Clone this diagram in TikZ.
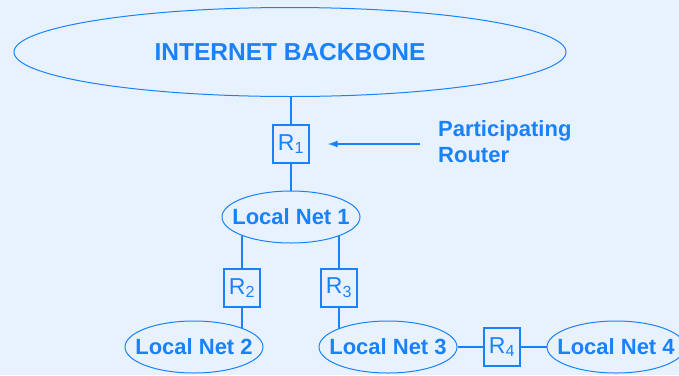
\documentclass[tikz,border=0pt]{standalone}
\usepackage{fontspec}
\setmainfont{Liberation Sans}
\usetikzlibrary{shapes.geometric,arrows.meta}
\definecolor{netblue}{RGB}{25,130,250}
\definecolor{bgblue}{RGB}{232,242,254}
\pgfdeclarelayer{bglayer}
\pgfdeclarelayer{linelayer}
\pgfsetlayers{bglayer,linelayer,main}
\begin{document}
\begin{tikzpicture}[x=1pt,y=-1pt,
  net/.style={ellipse,draw=netblue,line width=1pt,fill=bgblue,text=netblue,
    font=\bfseries\fontsize{22}{26}\selectfont,inner xsep=-14pt,inner ysep=0pt,
    minimum width=138pt,minimum height=52pt},
  router/.style={rectangle,draw=netblue,line width=1.3pt,fill=bgblue,text=netblue,
    font=\fontsize{23}{26}\selectfont,inner sep=0pt,
    minimum width=36pt,minimum height=38pt},
  link/.style={draw=netblue,line width=1.3pt},
  note/.style={text=netblue,font=\bfseries\fontsize{22}{26}\selectfont,
    align=left,anchor=west,inner sep=0pt}]
\begin{pgfonlayer}{bglayer}
  \fill[bgblue] (0,0) rectangle (679,375);
\end{pgfonlayer}
\useasboundingbox (0,0) rectangle (679,375);

\node[net,minimum width=552pt,minimum height=89pt,inner xsep=0pt,
  font=\bfseries\fontsize{24.5}{28}\selectfont] (bb) at (290,52) {INTERNET BACKBONE};
\node[router] (R1) at (291,144) {R\textsubscript{1}};
\node[net] (n1) at (291,217) {Local Net 1};
\node[router] (R2) at (242,288) {R\textsubscript{2}};
\node[router] (R3) at (339,288) {R\textsubscript{3}};
\node[net] (n2) at (194,347) {Local Net 2};
\node[net] (n3) at (388,347) {Local Net 3};
\node[router] (R4) at (502,347) {R\textsubscript{4}};
\node[net] (n4) at (616,347) {Local Net 4};
\node[note] (lbl) at (438,142) {Participating\\Router};

\begin{pgfonlayer}{linelayer}
  \draw[link] (R1) -- (R1 |- bb.center);
  \draw[link] (R1) -- (n1);
  \draw[link] (R2) -- (R2 |- n1.center);
  \draw[link] (R2) -- (R2 |- n2.center);
  \draw[link] (R3) -- (R3 |- n1.center);
  \draw[link] (R3) -- (R3 |- n3.center);
  \draw[link] (n3) -- (R4);
  \draw[link] (R4) -- (n4);
\end{pgfonlayer}
\draw[link,-{Latex[length=10pt,width=7pt]},shorten <=18pt,shorten >=18pt]
  (lbl.west |- R1.east) -- (R1.east);
\end{tikzpicture}
\end{document}
